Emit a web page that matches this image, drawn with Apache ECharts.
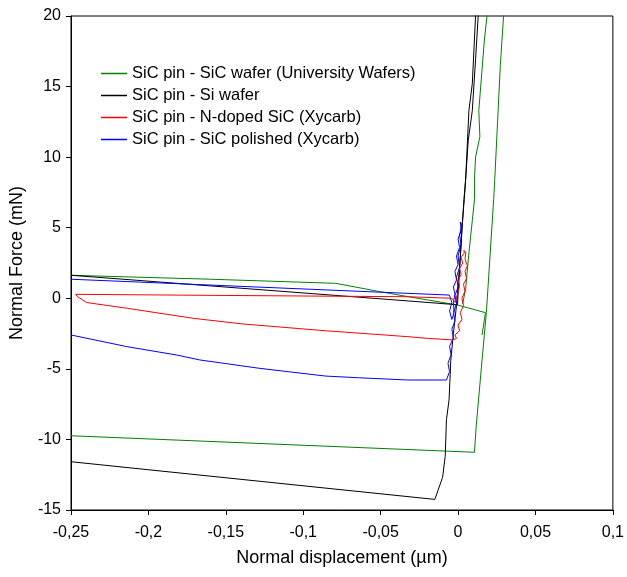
<!DOCTYPE html>
<html>
<head>
<meta charset="utf-8">
<script src="https://cdn.jsdelivr.net/npm/echarts@6/dist/echarts.min.js"></script>
<style>html,body{margin:0;padding:0;background:#fff}#c{width:627px;height:577px}</style>
</head>
<body>
<div id="c"></div>
<script>
// ---- data (x: normal displacement µm, y: normal force mN) ----
var seriesNames = ['SiC pin - SiC wafer (University Wafers)', 'SiC pin - Si wafer', 'SiC pin - N-doped SiC (Xycarb)', 'SiC pin - SiC polished (Xycarb)'];
var xTickLabels = ['-0,25', '-0,2', '-0,15', '-0,1', '-0,05', '0', '0,05', '0,1'];
var yTickLabels = ['-15', '-10', '-5', '0', '5', '10', '15', '20'];

var greenApproach = [[-0.25,1.63],[-0.16,1.35],[-0.079,1.06],[-0.052,0.5],[-0.032,0.11],[-0.0005,-0.47],[0.0177,-1.02],[0.0155,-2.6]];
var greenLoadUnload = [[0.003,-0.4],[0.0049,0.7],[0.007,3.2],[0.0092,5.5],[0.0106,7.0],[0.0106,8.4],[0.0113,10.0],[0.0141,11.45],[0.0134,13.3],[0.017,18.3],[0.0187,20],[0.0193,21],
  [0.0300,21],[0.0294,20],[0.0273,16.5],[0.0237,8.4],[0.0230,7.0],[0.0183,-1.0],[0.0155,-4.37],[0.0117,-9.1],[0.0106,-10.91],[-0.25,-9.74]];

var blackApproach = [[-0.25,1.63],[-0.032,-0.19],[-0.005,-0.42],[-0.0004,-0.47]];
var blackLoadUnload = [[-0.0004,-0.47],[0.001,2],[0.0025,5],[0.004,7],[0.0066,11.2],[0.0092,13.3],[0.0113,16.9],[0.013,20],[0.0133,21],
  [0.0111,21],[0.0113,20],[0.0092,15.2],[0.007,13.3],[0.0049,8.4],[0.0038,7.0],[0.0015,3],[-0.001,-0.5],[-0.003,-2.5],[-0.0047,-4.4],[-0.0058,-7.2],[-0.0075,-8.6],[-0.0083,-11.2],[-0.010,-12.69],[-0.015,-14.25],[-0.25,-11.58]];

var redLoop = [[-0.247,0.28],[-0.15,0.2],[-0.0324,0.11],[-0.004,0.0],
  [-0.002,-0.3],[0.0,0.4],[0.001,0.9],[0.0,1.3],[0.002,1.7],[0.001,2.1],[0.003,2.5],[0.002,2.9],[0.004,3.2],[0.0038,3.4],
  [0.005,3.2],[0.0045,2.8],[0.006,2.3],[0.0045,1.9],[0.0055,1.4],[0.0035,1.0],[0.0045,0.5],[0.0025,0.0],[0.0035,-0.5],[0.0015,-1.0],[0.0025,-1.5],[0.0,-1.9],[0.001,-2.3],[-0.002,-2.6],[-0.001,-2.85],[-0.0036,-2.95],
  [-0.0197,-2.84],[-0.0324,-2.72],[-0.0857,-2.3],[-0.139,-1.82],[-0.171,-1.42],[-0.2137,-0.71],[-0.24,-0.3],[-0.2457,0.11],[-0.247,0.28]];

var blueLoop = [[-0.25,1.35],[-0.0324,0.35],[-0.0056,0.23],[-0.004,-0.3],[-0.0055,-0.9],[-0.004,-1.5],[-0.0025,-1.0],[-0.003,-0.3],
  [-0.002,0.3],[-0.003,0.8],[-0.001,1.3],[-0.002,1.9],[0.0,2.4],[-0.001,3.0],[0.001,3.6],[0.0,4.2],[0.002,4.8],[0.0015,5.4],
  [0.0025,5.2],[0.001,4.5],[0.002,3.8],[0.0,3.0],[0.001,2.2],[-0.001,1.5],[0.0,0.8],[-0.002,0.2],[-0.001,-0.4],[-0.003,-1.0],[-0.002,-1.6],[-0.004,-2.2],[-0.003,-2.8],[-0.0055,-3.4],[-0.0045,-4.0],[-0.0065,-4.6],[-0.0055,-5.2],[-0.0075,-5.79],
  [-0.009,-5.79],[-0.0324,-5.79],[-0.0644,-5.63],[-0.0857,-5.51],[-0.1284,-4.96],[-0.1668,-4.37],[-0.1817,-4.02],[-0.2137,-3.43],[-0.25,-2.6]];

var colors = ['#008000', '#000000', '#ff0000', '#0000ff'];

function mk(name, color, data, z) {
  return { name: name, type: 'line', data: data, symbol: 'none', smooth: false, z: z,
    lineStyle: { color: color, width: 1 }, itemStyle: { color: color }, animation: false };
}

var FONT = 'Liberation Sans, Arial, sans-serif';
var chart = echarts.init(document.getElementById('c'), null, { renderer: 'canvas' });
chart.setOption({
  animation: false,
  textStyle: { fontFamily: FONT },
  grid: { left: 70, right: 10, top: 16, bottom: 67, show: true, borderColor: '#000', borderWidth: 1 },
  legend: {
    data: seriesNames, orient: 'vertical', left: 96, top: 60, itemGap: 5, itemWidth: 26, itemHeight: 1.5,
    icon: 'rect',
    textStyle: { fontSize: 16.5, color: '#000', fontFamily: FONT }
  },
  xAxis: {
    type: 'value', min: -0.25, max: 0.1, interval: 0.05,
    name: 'Normal displacement (\u00b5m)', nameLocation: 'middle', nameGap: 39,
    nameTextStyle: { fontSize: 18, color: '#000', fontFamily: FONT },
    axisLine: { show: true, onZero: false, lineStyle: { color: '#000', width: 1 } },
    axisTick: { show: true, inside: false, length: 5, lineStyle: { color: '#000' } },
    axisLabel: { fontSize: 16, color: '#000', margin: 15, formatter: function (v, i) { return xTickLabels[i]; } },
    splitLine: { show: false }
  },
  yAxis: {
    type: 'value', min: -15, max: 20, interval: 5,
    name: 'Normal Force (mN)', nameLocation: 'middle', nameGap: 45,
    nameTextStyle: { fontSize: 18, color: '#000', fontFamily: FONT },
    axisLine: { show: true, onZero: false, lineStyle: { color: '#000', width: 1 } },
    axisTick: { show: true, inside: false, length: 5, lineStyle: { color: '#000' } },
    axisLabel: { fontSize: 16, color: '#000', margin: 10, formatter: function (v, i) { return yTickLabels[i]; } },
    splitLine: { show: false }
  },
  series: [
    mk(seriesNames[0], colors[0], greenApproach, 2),
    mk(seriesNames[0], colors[0], greenLoadUnload, 2),
    mk(seriesNames[1], colors[1], blackApproach, 3),
    mk(seriesNames[1], colors[1], blackLoadUnload, 3),
    mk(seriesNames[2], colors[2], redLoop, 5),
    mk(seriesNames[3], colors[3], blueLoop, 4)
  ]
});
</script>
</body>
</html>
